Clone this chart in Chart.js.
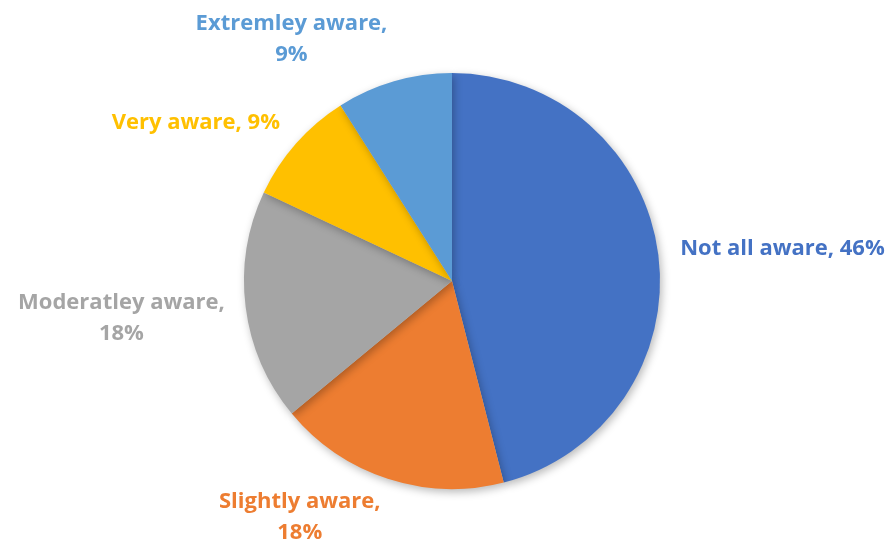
<!DOCTYPE html>
<html>
<head>
<meta charset="utf-8">
<script src="https://cdn.jsdelivr.net/npm/chart.js@4.4.1/dist/chart.umd.min.js"></script>
<style>
  html, body { margin: 0; padding: 0; background: #fff; }
  #wrap { width: 891px; height: 549px; }
</style>
</head>
<body>
<div id="wrap"><canvas id="pie" width="891" height="549"></canvas></div>
<script>
const categories = ['Not all aware', 'Slightly aware', 'Moderatley aware', 'Very aware', 'Extremley aware'];
const percents = [46, 18, 18, 9, 9];
const colors = ['#4472C4', '#ED7D31', '#A5A5A5', '#FFC000', '#5B9BD5'];

const FONT = 'bold 22px "Open Sans", "Liberation Sans", sans-serif';

// soft drop shadow under the pie, like the Excel default
const shadowPlugin = {
    id: 'pieShadow',
    beforeDatasetsDraw(chart) {
        const ctx = chart.ctx;
        ctx.save();
        ctx.shadowColor = 'rgba(0,0,0,0.28)';
        ctx.shadowBlur = 9;
        ctx.shadowOffsetX = 2;
        ctx.shadowOffsetY = 3;
    },
    afterDatasetsDraw(chart) {
        chart.ctx.restore();
    }
};

// outside-end labels, "Category, NN%", coloured like their slice;
// broken after the comma when the whole text does not fit
const labelPlugin = {
    id: 'outsideLabels',
    afterDraw(chart) {
        const ctx = chart.ctx;
        const meta = chart.getDatasetMeta(0);
        const lineH = 31;
        ctx.save();
        ctx.font = FONT;
        meta.data.forEach(function (arc, i) {
            const mid = (arc.startAngle + arc.endAngle) / 2;
            const r = arc.outerRadius + 20;
            const dx = Math.cos(mid), dy = Math.sin(mid);
            const x = arc.x + r * dx;
            const y = arc.y + r * dy;
            const right = dx > 0;
            const maxW = right ? chart.width - x - 4 : 200;
            const full = categories[i] + ', ' + percents[i] + '%';
            const lines = ctx.measureText(full).width > maxW
                ? [categories[i] + ',', percents[i] + '%']
                : [full];
            const blockW = Math.max.apply(null, lines.map(l => ctx.measureText(l).width));
            const blockH = lines.length * lineH;
            const left = right ? x + 2 : x - 1 - blockW;
            let top;
            if (dy < -0.5) top = y - blockH + 8;
            else if (dy > 0.5) top = y - 12;
            else top = y - 3.5 + (lines.length - 1) * 12.5 - blockH / 2;
            ctx.fillStyle = colors[i];
            ctx.textAlign = 'center';
            ctx.textBaseline = 'middle';
            lines.forEach(function (l, k) {
                ctx.fillText(l, left + blockW / 2, top + lineH * k + lineH / 2);
            });
        });
        ctx.restore();
    }
};

new Chart(document.getElementById('pie'), {
    type: 'pie',
    data: {
        labels: categories,
        datasets: [{
            data: percents,
            backgroundColor: colors,
            borderWidth: 0,
        }],
    },
    options: {
        responsive: false,
        animation: false,
        layout: { padding: { left: 244, right: 231, top: 73, bottom: 60 } },
        plugins: { legend: { display: false }, tooltip: { enabled: false } },
    },
    plugins: [shadowPlugin, labelPlugin],
});
</script>
</body>
</html>
